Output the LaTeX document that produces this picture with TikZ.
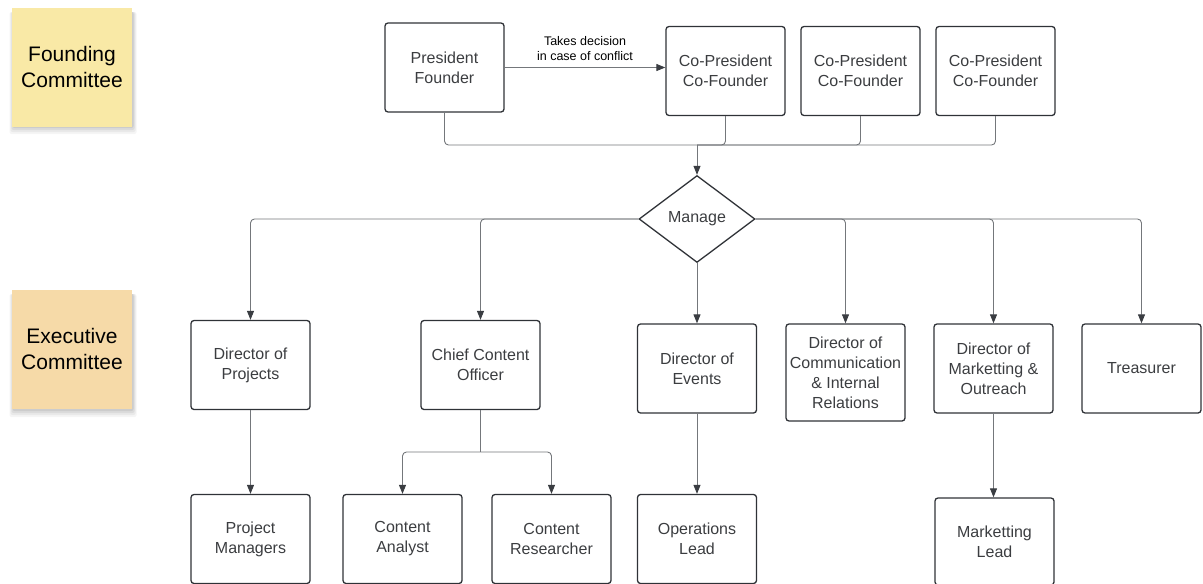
\documentclass[tikz,border=0pt]{standalone}
\usepackage{fontspec}
\setmainfont{Liberation Sans}
\usetikzlibrary{arrows.meta,shapes.geometric}
\definecolor{boxc}{HTML}{2F3237}
\definecolor{txtc}{HTML}{3B3D40}
\definecolor{linec}{HTML}{74777B}
\definecolor{arrowc}{HTML}{3A3D42}
\definecolor{noteA}{HTML}{F9E9A6}
\definecolor{noteB}{HTML}{F6DAA8}
\tikzset{
  box/.style={draw=boxc, line width=1.3pt, rounded corners=3pt, minimum width=119pt, minimum height=89pt,
    inner sep=1pt, align=center, text=txtc, font=\fontsize{16}{20}\selectfont},
  note/.style={minimum width=120pt, minimum height=119pt, inner sep=0pt, align=center, text=black,
    font=\fontsize{21}{26}\selectfont},
  conn/.style={draw=linec, line width=0.9pt, rounded corners=4pt},
  arr/.style={conn, -{Triangle[length=9pt,width=7pt,color=arrowc,fill=arrowc]}},
  decision/.style={diamond, draw=boxc, line width=1.3pt, minimum width=116pt, minimum height=87pt,
    inner sep=0pt, text=txtc, font=\fontsize{16}{20}\selectfont},
  lbl/.style={font=\fontsize{12.5}{15.5}\selectfont, align=center, text=black, inner sep=1pt}
}
\begin{document}
\begin{tikzpicture}[x=1pt,y=-1pt]
\useasboundingbox (0,0) rectangle (1203,584);
% sticky notes with soft shadows
\foreach \d/\o in {7/0.04,5/0.05,3/0.06,1/0.07}{
  \fill[black,opacity=\o,rounded corners=2pt] (13-\d/2,12) rectangle (133+\d/2,127+\d);
  \fill[black,opacity=\o,rounded corners=2pt] (13-\d/2,294) rectangle (133+\d/2,410+\d);
}
\node[note, fill=noteA] (fc) at (72,67) {Founding\\Committee};
\node[note, fill=noteB] (ec) at (72,349) {Executive\\Committee};
% founding row
\node[box] (pf) at (444.5,67.5) {President\\Founder};
\node[box] (cp1) at (725.5,71) {Co-President\\Co-Founder};
\node[box] (cp2) at (860.5,71) {Co-President\\Co-Founder};
\node[box] (cp3) at (995.5,71) {Co-President\\Co-Founder};
\draw[arr] (pf.east) -- node[lbl, above=5pt] {Takes decision\\in case of conflict} (pf.east -| cp1.west);
% decision
\node[decision] (mg) at (697,219) {Manage};
\coordinate (m1) at (697,145);
\draw[conn] (pf.south) |- (m1);
\draw[conn] (cp1.south) |- (m1);
\draw[conn] (cp2.south) |- (m1);
\draw[conn] (cp3.south) |- (m1);
\draw[arr] (m1) -- (mg.north);
% executive row
\node[box] (dp) at (250.5,365) {Director of\\Projects};
\node[box] (cco) at (480.5,365) {Chief Content\\Officer};
\node[box] (de) at (697,368.5) {Director of\\Events};
\node[box, minimum height=97pt] (dc) at (845.5,372.5) {Director of\\Communication\\\& Internal\\Relations};
\node[box] (dm) at (993.5,368.5) {Director of\\Marketting \&\\Outreach};
\node[box] (tr) at (1141.5,368.5) {Treasurer};
\draw[arr] (mg.west) -| (dp.north);
\draw[arr] (mg.west) -| (cco.north);
\draw[arr] (mg.south) -- (de.north);
\draw[arr] (mg.east) -| (dc.north);
\draw[arr] (mg.east) -| (dm.north);
\draw[arr] (mg.east) -| (tr.north);
% bottom row
\node[box] (pm) at (250.5,539) {Project\\Managers};
\node[box] (ca) at (402.5,539) {Content\\Analyst};
\node[box] (cr) at (551.5,539) {Content\\Researcher};
\node[box] (ol) at (697,539) {Operations\\Lead};
\node[box, minimum height=87pt] (ml) at (994.5,541.5) {Marketting\\Lead};
\coordinate (m2) at (480.5,452);
\draw[arr] (dp.south) -- (pm.north);
\draw[conn] (cco.south) -- (m2);
\draw[arr] (m2) -| (ca.north);
\draw[arr] (m2) -| (cr.north);
\draw[arr] (de.south) -- (ol.north);
\draw[arr] (dm.south) -- (dm.south |- ml.north);
\end{tikzpicture}
\end{document}
